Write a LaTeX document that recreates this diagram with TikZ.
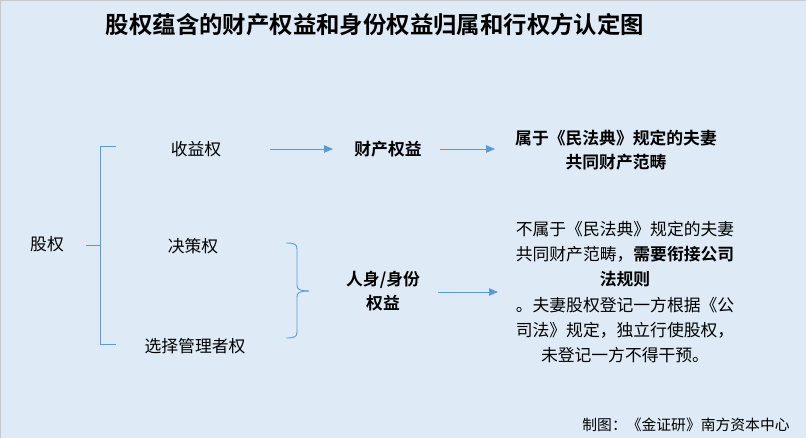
\documentclass[tikz,border=0pt]{standalone}
\usepackage{fontspec}
\setmainfont{Noto Sans CJK SC}[BoldFont={Noto Sans CJK SC Bold}]
\usetikzlibrary{arrows.meta}
\definecolor{bg}{HTML}{DEEBF7}
\definecolor{ln}{HTML}{5B9BD5}
\definecolor{edge}{HTML}{C8C8C8}
\tikzset{
  lbl/.style={inner sep=0pt, font=\fontsize{16.8}{25.2}\selectfont, text=black},
  blbl/.style={lbl, font=\fontsize{16.8}{24}\selectfont\bfseries},
  conn/.style={draw=ln, line width=0.9pt},
  arr/.style={conn, -{Triangle[length=9pt,width=7.5pt]}},
}
\begin{document}
\begin{tikzpicture}[x=1pt,y=-1pt]
\fill[bg] (0,0) rectangle (806,438);
\useasboundingbox (0,0) rectangle (806,438);
\draw[edge, line width=1.2pt] (0.6,438) -- (0.6,0.6) -- (806,0.6);

\node[inner sep=0pt, font=\fontsize{23.4}{28}\selectfont\bfseries] (title) at (375,25) {股权蕴含的财产权益和身份权益归属和行权方认定图};

\node[lbl] (eq) at (47,244) {股权};
\node[lbl] (inc) at (196,149) {收益权};
\node[lbl] (dec) at (193,246) {决策权};
\node[lbl] (sel) at (195,346) {选择管理者权};
\node[blbl] (prop) at (388,149) {财产权益};
\node[blbl, align=center] (pers) at (383,291) {人身/身份\\权益};
\node[blbl, align=center] (r1) at (616,150) {属于《民法典》规定的夫妻\\共同财产范畴};
\node[lbl, align=center] (r2) at (625,292) {不属于《民法典》规定的夫妻\\共同财产范畴，\textbf{需要衔接公司}\\\textbf{法规则}\\。夫妻股权登记一方根据《公\\司法》规定，独立行使股权，\\未登记一方不得干预。};
\node[inner sep=0pt, font=\fontsize{14.8}{18}\selectfont] (foot) at (686,425) {制图：《金证研》南方资本中心};

% left bracket
\coordinate (bM) at (100,245);
\coordinate (bT) at (116,146);
\coordinate (bB) at (116,344);
\coordinate (eqE) at (86,245);
\draw[conn] (bT) -- (100,146) -- (100,344) -- (bB);
\draw[conn] (eqE) -- (bM);

% arrows top row
\coordinate (a1s) at (270,149);
\coordinate (a1e) at (333,149);
\coordinate (a2s) at (440,149);
\coordinate (a2e) at (495,149);
\draw[arr] (a1s) -- (a1e);
\draw[arr] (a2s) -- (a2e);

% right brace
\coordinate (brT) at (286,243);
\coordinate (brB) at (286,338);
\coordinate (brM) at (309,291);
\draw[conn] (brT) .. controls (294,243) and (297,244) .. (297,249) -- (297,285)
  .. controls (297,289) and (299,291) .. (brM);
\draw[conn] (brB) .. controls (294,338) and (297,337) .. (297,332) -- (297,297)
  .. controls (297,293) and (299,291) .. (brM);

% arrow second row
\coordinate (a3s) at (438,292);
\coordinate (a3e) at (498,292);
\draw[arr] (a3s) -- (a3e);
\end{tikzpicture}
\end{document}
